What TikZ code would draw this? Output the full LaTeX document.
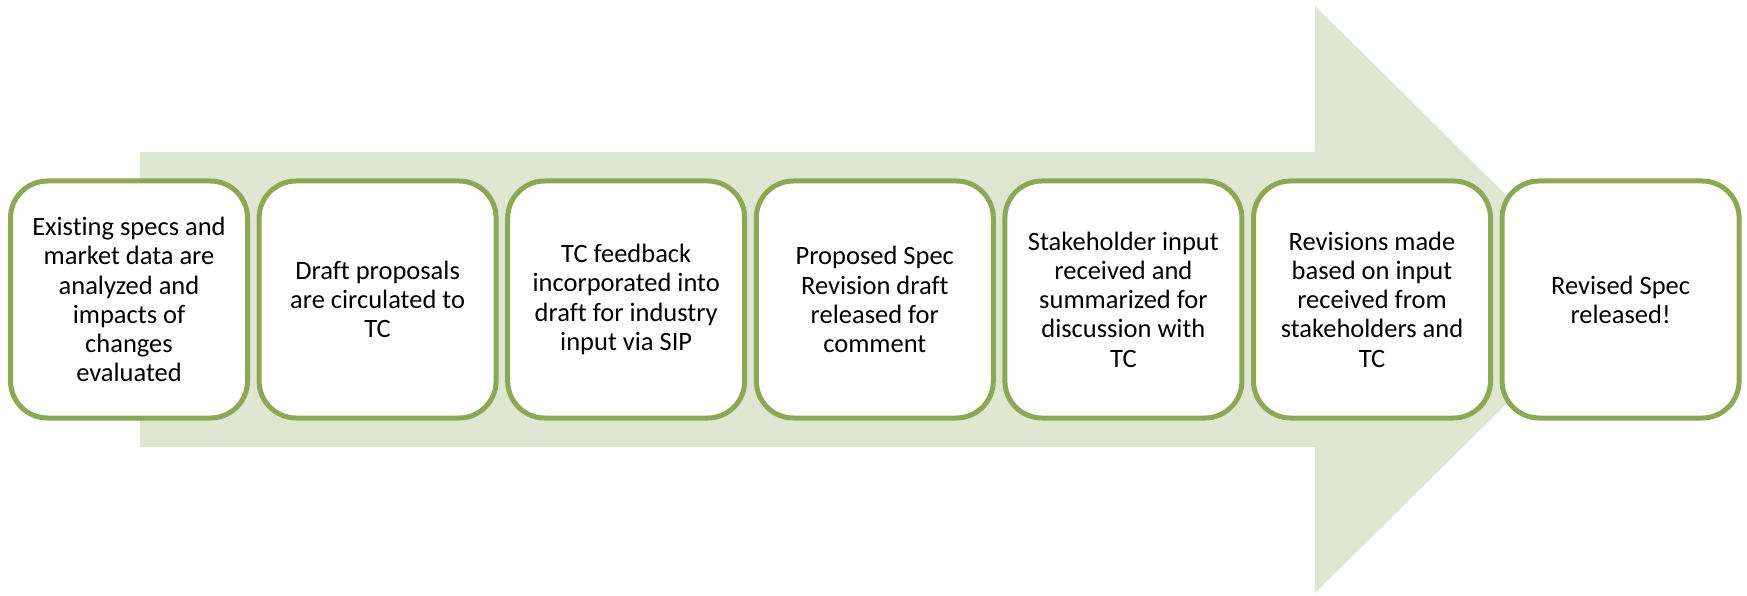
\documentclass[tikz,border=0pt]{standalone}
\usepackage{fontspec}
\setmainfont{Carlito}[Ligatures=NoCommon]
\definecolor{arrowfill}{RGB}{222,231,210}
\definecolor{boxline}{RGB}{139,169,84}
\begin{document}
\begin{tikzpicture}[x=1pt,y=1pt,
  stepbox/.style={draw=boxline, fill=white, line width=5pt, rounded corners=37pt,
    minimum width=237pt, minimum height=237pt, inner sep=0pt, align=center,
    font=\fontsize{26.5}{29.2}\selectfont, text=black}]
\useasboundingbox (0,0) rectangle (1747,595);
\fill[arrowfill] (140,443) -- (1315,443) -- (1315,589) -- (1612,295.5) -- (1315,2) -- (1315,148) -- (140,148) -- cycle;
\node[stepbox] (b1) at (129,295.5) {Existing specs and\\market data are\\analyzed and\\impacts of\\changes\\evaluated};
\node[stepbox] (b2) at (377.6,295.5) {Draft proposals\\are circulated to\\TC};
\node[stepbox] (b3) at (626.2,295.5) {TC feedback\\incorporated into\\draft for industry\\input via SIP};
\node[stepbox] (b4) at (874.8,295.5) {Proposed Spec\\Revision draft\\released for\\comment};
\node[stepbox] (b5) at (1123.4,295.5) {Stakeholder input\\received and\\summarized for\\discussion with\\TC};
\node[stepbox] (b6) at (1372,295.5) {Revisions made\\based on input\\received from\\stakeholders and\\TC};
\node[stepbox] (b7) at (1620.6,295.5) {Revised Spec\\released!};
\end{tikzpicture}
\end{document}
